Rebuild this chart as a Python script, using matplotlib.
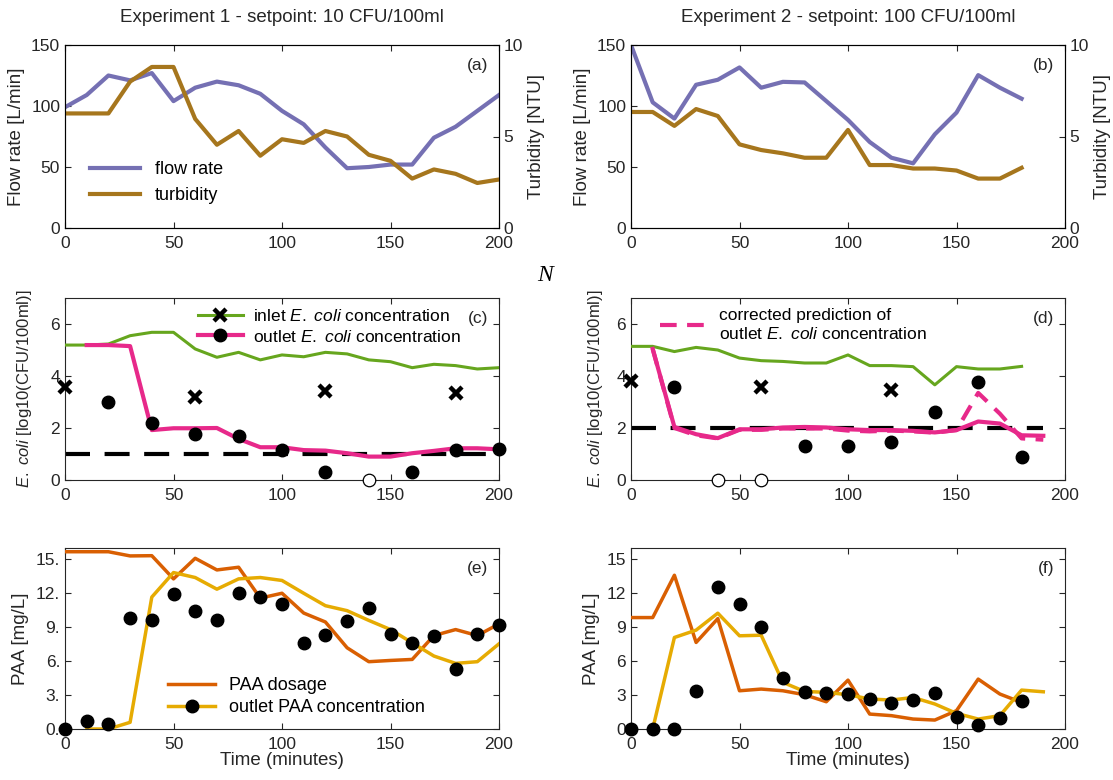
import matplotlib
matplotlib.use('Agg')
import matplotlib.pyplot as plt
from matplotlib.lines import Line2D
import numpy as np

plt.rcParams['font.family'] = ['Liberation Sans', 'DejaVu Sans']
plt.rcParams['mathtext.fontset'] = 'custom'
plt.rcParams['mathtext.it'] = 'Liberation Sans:italic'
plt.rcParams['mathtext.rm'] = 'Liberation Sans'

# colours (Dark2)
c_flow = '#7570b3'
c_turb = '#a6761d'
c_in = '#66a61e'
c_out = '#e7298a'
c_dose = '#d95f02'
c_paa = '#e6ab02'
c_ax = '#262626'

# ---- experiment 1 ----
t1 = list(range(0, 201, 10))
flow1 = [99, 109, 125, 121, 127, 104, 115, 120, 117, 110, 96, 85, 66, 49, 50, 52, 52, 74, 83, 96, 109]
turb1 = [6.26, 6.26, 6.26, 8.0, 8.8, 8.8, 5.96, 4.55, 5.3, 3.95, 4.85, 4.65, 5.3, 5.0, 4.0, 3.67, 2.7, 3.2, 2.96, 2.46, 2.65]
inlet1 = [5.19, 5.19, 5.23, 5.55, 5.68, 5.68, 5.04, 4.72, 4.91, 4.62, 4.81, 4.74, 4.91, 4.85, 4.62, 4.55, 4.32, 4.45, 4.4, 4.27, 4.32]
t1_out = list(range(10, 201, 10))
outlet1 = [5.19, 5.19, 5.15, 1.92, 1.99, 1.99, 2.0, 1.58, 1.26, 1.26, 1.15, 1.13, 1.03, 0.9, 0.9, 1.03, 1.12, 1.22, 1.22, 1.18]
inlet_meas_t1 = [0, 60, 120, 180]
inlet_meas1 = [3.59, 3.2, 3.42, 3.33]
outlet_meas_t1 = [20, 40, 60, 80, 100, 120, 160, 180, 200]
outlet_meas1 = [3.01, 2.2, 1.77, 1.7, 1.15, 0.32, 0.32, 1.15, 1.19]
below_t1 = [140]
setpoint1 = 1.0
dose1 = [15.67, 15.67, 15.67, 15.3, 15.32, 13.27, 15.09, 14.06, 14.3, 11.57, 12.0, 10.25, 9.46, 7.18, 5.95, 6.06, 6.15, 8.26, 8.79, 8.26, 9.29]
t1_paa = list(range(10, 201, 10))
paa1 = [0, 0, 0.59, 11.66, 13.83, 13.39, 12.36, 13.27, 13.39, 13.13, 12.0, 10.9, 10.46, 9.6, 8.79, 7.62, 6.45, 5.8, 5.95, 7.53]
paa_meas1 = [0, 0.67, 0.44, 9.81, 9.67, 11.92, 10.46, 9.67, 12.0, 11.63, 11.07, 7.62, 8.29, 9.58, 10.7, 8.4, 7.56, 8.26, 5.33, 8.4, 9.17]

# ---- experiment 2 ----
t2 = list(range(0, 181, 10))
flow2 = [150, 103, 89.7, 117.4, 121.5, 131.6, 115, 119.8, 119.3, 104, 88.6, 70.5, 57.6, 53, 76.8, 94.6, 125.3, 115, 106]
turb2 = [6.34, 6.34, 5.58, 6.5, 6.12, 4.57, 4.26, 4.08, 3.84, 3.84, 5.36, 3.44, 3.44, 3.25, 3.25, 3.14, 2.7, 2.7, 3.29]
inlet2 = [5.14, 5.14, 4.94, 5.1, 5.0, 4.69, 4.59, 4.56, 4.5, 4.5, 4.81, 4.4, 4.4, 4.36, 3.66, 4.36, 4.27, 4.27, 4.37]
t2_out = list(range(10, 191, 10))
outlet2 = [5.04, 2.04, 1.76, 1.61, 1.95, 1.95, 2.02, 2.04, 2.02, 1.95, 1.92, 1.92, 1.89, 1.83, 1.92, 2.25, 2.17, 1.72, 1.7]
corrected2 = [5.04, 2.0, 1.72, 1.6, 1.93, 1.93, 1.98, 1.98, 1.98, 1.9, 1.87, 1.9, 1.87, 1.82, 1.92, 3.35, 2.55, 1.6, 1.55]
inlet_meas_t2 = [0, 60, 120]
inlet_meas2 = [3.79, 3.56, 3.46]
outlet_meas_t2 = [20, 80, 100, 120, 140, 160, 180]
outlet_meas2 = [3.56, 1.31, 1.29, 1.47, 2.6, 3.78, 0.9]
below_t2 = [40, 60]
setpoint2 = 2.0
dose2 = [9.85, 9.85, 13.59, 7.65, 9.76, 3.38, 3.53, 3.38, 3.03, 2.41, 4.32, 1.32, 1.18, 0.88, 0.79, 1.62, 4.41, 3.09, 2.35]
t2_paa = list(range(10, 191, 10))
paa2 = [0, 8.09, 8.74, 10.24, 8.24, 8.29, 4.12, 3.32, 3.24, 3.03, 2.65, 2.56, 2.79, 2.21, 1.38, 0.88, 1.18, 3.44, 3.29]
paa_meas2 = [0, 0, 0, 3.38, 12.56, 11.09, 9.03, 4.47, 3.29, 3.18, 3.09, 2.65, 2.29, 2.59, 3.18, 1.03, 0.35, 0.97, 2.44]

fig = plt.figure(figsize=(11.13, 7.8), dpi=100)

lefts = [65 / 1113, 631 / 1113]
w = 434 / 1113
rows = [(1 - 228 / 780, 183 / 780), (1 - 480 / 780, 182 / 780), (1 - 729 / 780, 181 / 780)]
FS = 12.5   # tick labels
LFS = 13.5  # axis labels
GFS = 13    # legends


def style(ax, right=True):
    ax.tick_params(direction='in', length=4, colors=c_ax, labelsize=FS,
                   top=True, right=right)
    ax.tick_params(axis='x', pad=5.5)
    for s in ax.spines.values():
        s.set_color(c_ax)
        s.set_linewidth(0.8)
    ax.set_xlim(0, 200)
    ax.set_xticks([0, 50, 100, 150, 200])


# ---- row 1: flow/turbidity ----
for j, (t, fl, tb, lab) in enumerate([(t1, flow1, turb1, '(a)'), (t2, flow2, turb2, '(b)')]):
    ax = fig.add_axes([lefts[j], rows[0][0], w, rows[0][1]])
    style(ax, right=False)
    ax2 = ax.twinx()
    ax2.tick_params(direction='in', length=4, colors=c_ax, labelsize=FS, pad=3)
    l1, = ax.plot(t, fl, color=c_flow, lw=3, label='flow rate')
    l2, = ax2.plot(t, tb, color=c_turb, lw=3, label='turbidity')
    ax.set_ylim(0, 150)
    ax.set_yticks([0, 50, 100, 150])
    ax2.set_ylim(0, 10)
    ax2.set_yticks([0, 5, 10])
    ax.set_ylabel('Flow rate [L/min]', fontsize=LFS, color=c_ax, labelpad=4)
    ax2.set_ylabel('Turbidity [NTU]', fontsize=LFS, color=c_ax, labelpad=4)
    ax.text(0.975, 0.93, lab, transform=ax.transAxes, ha='right', va='top', fontsize=FS, color=c_ax)
    if j == 0:
        ax.legend([l1, l2], ['flow rate', 'turbidity'], loc='lower left',
                  bbox_to_anchor=(0.02, 0.04), frameon=False, fontsize=GFS,
                  handlelength=2.8, labelspacing=0.5)

fig.text(282 / 1113, 1 - 18 / 780, 'Experiment 1 - setpoint: 10 CFU/100ml', ha='center', va='center',
         fontsize=13.5, color=c_ax)
fig.text(848 / 1113, 1 - 18 / 780, 'Experiment 2 - setpoint: 100 CFU/100ml', ha='center', va='center',
         fontsize=13.5, color=c_ax)

# ---- row 2: E. coli ----
ecoli = r'$\mathit{E.}$ $\mathit{coli}$'
specs = [
    (t1, inlet1, t1_out, outlet1, None, inlet_meas_t1, inlet_meas1, outlet_meas_t1, outlet_meas1, below_t1, setpoint1, 200, '(c)'),
    (t2, inlet2, t2_out, outlet2, corrected2, inlet_meas_t2, inlet_meas2, outlet_meas_t2, outlet_meas2, below_t2, setpoint2, 190, '(d)'),
]
for j, (t, inl, to, out, corr, it, im, ot, om, bt, sp, spend, lab) in enumerate(specs):
    ax = fig.add_axes([lefts[j], rows[1][0], w, rows[1][1]])
    style(ax)
    ax.set_ylim(0, 7)
    ax.set_yticks([0, 2, 4, 6])
    ax.plot([0, spend], [sp, sp], color='black', lw=3, dashes=(6, 3.5), zorder=2)
    hin, = ax.plot(t, inl, color=c_in, lw=2.2, zorder=3)
    hout, = ax.plot(to, out, color=c_out, lw=3, zorder=3)
    if corr is not None:
        hcorr, = ax.plot(to, corr, color=c_out, lw=3, dashes=(4, 2.5), zorder=3)
    ax.plot(it, im, ls='none', marker='x', color='black', ms=8, mew=3.2, clip_on=False, zorder=5)
    ax.plot(ot, om, ls='none', marker='o', color='black', ms=9, clip_on=False, zorder=5)
    ax.plot(bt, [0] * len(bt), ls='none', marker='o', mfc='white', mec='black', ms=9,
            mew=0.9, clip_on=False, zorder=5)
    ax.set_ylabel(ecoli + ' [log10(CFU/100ml)]', fontsize=12, color=c_ax, labelpad=12 if j == 0 else 8)
    ax.text(0.975, 0.93, lab, transform=ax.transAxes, ha='right', va='top', fontsize=FS, color=c_ax)
    if j == 0:
        mx = Line2D([], [], ls='none', marker='x', color='black', ms=8, mew=3.2)
        mo = Line2D([], [], ls='none', marker='o', color='black', ms=9)
        ax.legend([(hin, mx), (hout, mo)],
                  ['inlet ' + ecoli + ' concentration', 'outlet ' + ecoli + ' concentration'],
                  loc='upper left', bbox_to_anchor=(0.27, 1.03), frameon=False, fontsize=12.5,
                  handlelength=2.6, labelspacing=0.25, handletextpad=0.6)
    else:
        ax.legend([hcorr], ['corrected prediction of\noutlet ' + ecoli + ' concentration'],
                  loc='upper left', bbox_to_anchor=(0.03, 1.03), frameon=False, fontsize=12.5,
                  handlelength=2.6, handletextpad=0.8)

fig.text(545 / 1113, 1 - 275 / 780, 'N', fontsize=17, style='italic', family='Liberation Serif',
         ha='center', va='center', color='black')

# ---- row 3: PAA ----
specs = [
    (t1, dose1, t1_paa, paa1, t1, paa_meas1, '(e)', ['0.', '3.', '6.', '9.', '12.', '15.']),
    (t2, dose2, t2_paa, paa2, t2, paa_meas2, '(f)', ['0', '3', '6', '9', '12', '15']),
]
for j, (t, dose, tp, paa, tm, pm, lab, ylabs) in enumerate(specs):
    ax = fig.add_axes([lefts[j], rows[2][0], w, rows[2][1]])
    style(ax)
    ax.set_ylim(0, 16)
    ax.set_yticks([0, 3, 6, 9, 12, 15])
    ax.set_yticklabels(ylabs)
    hd, = ax.plot(t, dose, color=c_dose, lw=2.5, zorder=3)
    hp, = ax.plot(tp, paa, color=c_paa, lw=2.5, zorder=3)
    ax.plot(tm, pm, ls='none', marker='o', color='black', ms=9, clip_on=False, zorder=5)
    ax.set_ylabel('PAA [mg/L]', fontsize=LFS, color=c_ax, labelpad=5)
    ax.set_xlabel('Time (minutes)', fontsize=LFS, color=c_ax, labelpad=0)
    ax.text(0.975, 0.93, lab, transform=ax.transAxes, ha='right', va='top', fontsize=FS, color=c_ax)
    if j == 0:
        mo = Line2D([], [], ls='none', marker='o', color='black', ms=9)
        ax.legend([hd, (hp, mo)], ['PAA dosage', 'outlet PAA concentration'],
                  loc='lower left', bbox_to_anchor=(0.2, -0.02), frameon=False, fontsize=GFS,
                  handlelength=2.6, labelspacing=0.3, handletextpad=0.8)

fig.savefig('out.png', dpi=100)
